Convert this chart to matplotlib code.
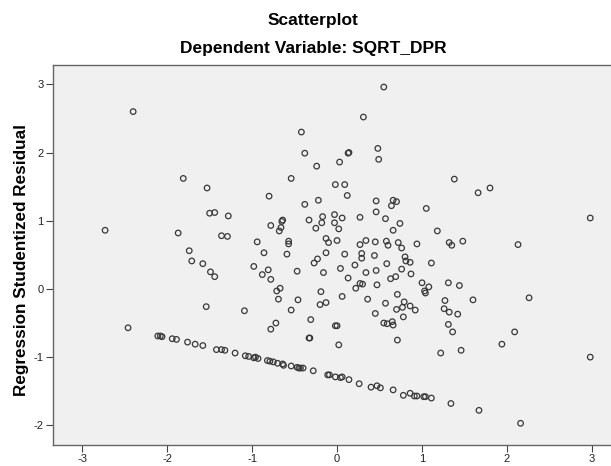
import matplotlib
matplotlib.use("Agg")
from matplotlib import pyplot as plt

# predicted values (x) and studentized residuals (y)
pred_x = [
    -2.40, -1.81, -1.53, -1.50, -1.44, -1.28, -2.73, -1.87, -1.36, -1.29, -1.74,
    -1.71, -1.58, -1.49, -1.44, -1.54, -1.09, -2.46,
    -2.11, -2.08, -2.06, -1.94, -1.89, -1.76, -1.67, -1.58, -1.42, -1.36, -1.32, -1.20, -1.08,
    0.55, 0.31, -0.42, -0.38, -0.24, 0.03, 0.13, 0.14, 0.48, 0.49, -0.54, -0.02, 0.09, 0.12,
    -0.80, -0.38, -0.22, 0.46, 0.66, 0.70, 0.64, 0.46, 0.57, 0.66, 0.74, 1.05, -0.03, 0.06,
    -0.17, -0.18, -0.03, -0.25, 0.02, -0.33, 0.27, -0.64, -0.65, -0.78, -0.66, -0.68, -0.94,
    -0.57, -0.57, -0.13, -0.10, 0.00, 0.27, 0.34, 0.45, 0.58, 0.60, 0.72, 0.76, 0.94,
    -0.86, -0.59, -0.13, 0.09, 0.29, 0.29, 0.44, 0.80, 0.81, 0.86, -0.98, -0.88, -0.81, -0.78,
    -0.47, -0.27, -0.23, -0.16, 0.04, 0.21, 0.34, 0.46, 0.585, 0.76, 0.87, 0.13, 0.63, 0.69,
    0.27, 0.30, 0.22, 0.47, -0.71, -0.67, -0.69, -0.46, -0.19, -0.20, -0.13, 0.06, 0.36, 0.57,
    0.71, 0.79, 0.86, 0.77, 0.70, 0.92, -0.54, 0.45, 0.78, -0.72, -0.78, -0.31, -0.02, 0.00,
    0.55, 0.59, 0.65, 0.66, -0.33, -0.32, 0.02, 0.71,
    -1.04, -0.98, -0.96, -0.93, -0.82, -0.79, -0.75, -0.70, -0.64, -0.63, -0.54, -0.47, -0.45,
    -0.43, -0.40, -0.28, -0.11, -0.09, -0.02, 0.04, 0.06, 0.14, 0.26, 0.40, 0.47, 0.51, 0.66,
    0.78, 0.86, 0.91, 0.94, 1.02,
    1.11, 1.00, 1.08, 1.03, 1.04, 1.31, 1.44, 1.60, 2.26, 1.27, 1.26, 1.32, 1.42, 1.31, 1.36,
    2.09, 1.94, 1.22, 1.46, 2.98, 1.04, 1.11, 1.34, 1.67, 2.16,
    1.38, 1.66, 1.80, 2.98, 1.18, 1.32, 1.35, 1.48, 2.13,
]
resid_y = [
    2.60, 1.62, 1.48, 1.11, 1.12, 1.07, 0.86, 0.82, 0.78, 0.77, 0.56,
    0.41, 0.37, 0.25, 0.18, -0.26, -0.32, -0.57,
    -0.69, -0.69, -0.70, -0.73, -0.74, -0.78, -0.81, -0.83, -0.89, -0.89, -0.90, -0.94, -0.98,
    2.96, 2.52, 2.30, 1.99, 1.80, 1.86, 1.99, 2.00, 2.06, 1.90, 1.62, 1.53, 1.53, 1.37,
    1.36, 1.24, 1.30, 1.29, 1.30, 1.28, 1.22, 1.13, 1.03, 0.86, 0.96, 1.18, 1.09, 1.04,
    1.06, 0.97, 0.97, 0.89, 0.88, 1.01, 1.05, 1.01, 0.99, 0.93, 0.90, 0.85, 0.69,
    0.70, 0.66, 0.74, 0.68, 0.71, 0.65, 0.71, 0.69, 0.70, 0.64, 0.68, 0.60, 0.66,
    0.53, 0.51, 0.53, 0.51, 0.52, 0.45, 0.49, 0.47, 0.41, 0.39, 0.33, 0.21, 0.28, 0.14,
    0.26, 0.38, 0.44, 0.24, 0.30, 0.35, 0.24, 0.27, 0.37, 0.29, 0.22, 0.16, 0.15, 0.18,
    0.08, 0.07, 0.01, 0.06, -0.03, 0.01, -0.15, -0.16, -0.04, -0.23, -0.20, -0.11, -0.15, -0.21,
    -0.08, -0.19, -0.25, -0.27, -0.30, -0.31, -0.31, -0.36, -0.41, -0.50, -0.59, -0.45, -0.54, -0.54,
    -0.50, -0.51, -0.48, -0.53, -0.72, -0.72, -0.82, -0.75,
    -0.99, -1.01, -1.00, -1.02, -1.05, -1.06, -1.07, -1.09, -1.10, -1.12, -1.13, -1.15, -1.16,
    -1.16, -1.16, -1.20, -1.26, -1.26, -1.29, -1.30, -1.29, -1.33, -1.39, -1.44, -1.42, -1.45, -1.48,
    -1.56, -1.53, -1.57, -1.57, -1.58,
    0.38, 0.09, 0.03, -0.03, -0.06, 0.09, 0.05, -0.16, -0.13, -0.17, -0.29, -0.34, -0.37, -0.52, -0.63,
    -0.63, -0.81, -0.94, -0.90, -1.00, -1.58, -1.60, -1.68, -1.78, -1.97,
    1.61, 1.41, 1.48, 1.04, 0.85, 0.68, 0.64, 0.70, 0.65,
]
tick_vals_x = [-3, -2, -1, 0, 1, 2, 3]
tick_vals_y = [-2, -1, 0, 1, 2, 3]

plt.rcParams['font.family'] = ['Liberation Sans', 'DejaVu Sans']
plt.rcParams['axes.unicode_minus'] = False

fig = plt.figure(figsize=(6.11, 4.66), dpi=100)
ax = fig.add_axes([0.0872, 0.0457, 0.915, 0.8148])
ax.set_facecolor('#f0f0f0')

ax.scatter(pred_x, resid_y, s=16, facecolors='none', edgecolors='#383838', linewidths=0.9)

ax.set_xlim(-3.34, 3.24)
ax.set_ylim(-2.284, 3.283)
ax.set_xticks(tick_vals_x)
ax.set_yticks(tick_vals_y)
ax.tick_params(direction='out', length=5, width=0.8, colors='#444444', labelsize=8,
               labelcolor='#222222', pad=2)
for side in ['left', 'bottom', 'top']:
    ax.spines[side].set_color('#666666')
    ax.spines[side].set_linewidth(1.0)
ax.spines['right'].set_visible(False)

fig.text(0.512, 1 - 21 / 466, 'Scatterplot', ha='center', va='center',
         fontsize=12.5, fontweight='bold')
fig.text(0.512, 1 - 49 / 466, 'Dependent Variable: SQRT_DPR', ha='center', va='center',
         fontsize=12.5, fontweight='bold')
fig.text(22 / 611, 1 - 260 / 466, 'Regression Studentized Residual', ha='center', va='center',
         rotation=90, fontsize=12.3, fontweight='bold')

fig.savefig('out.png', dpi=100)
